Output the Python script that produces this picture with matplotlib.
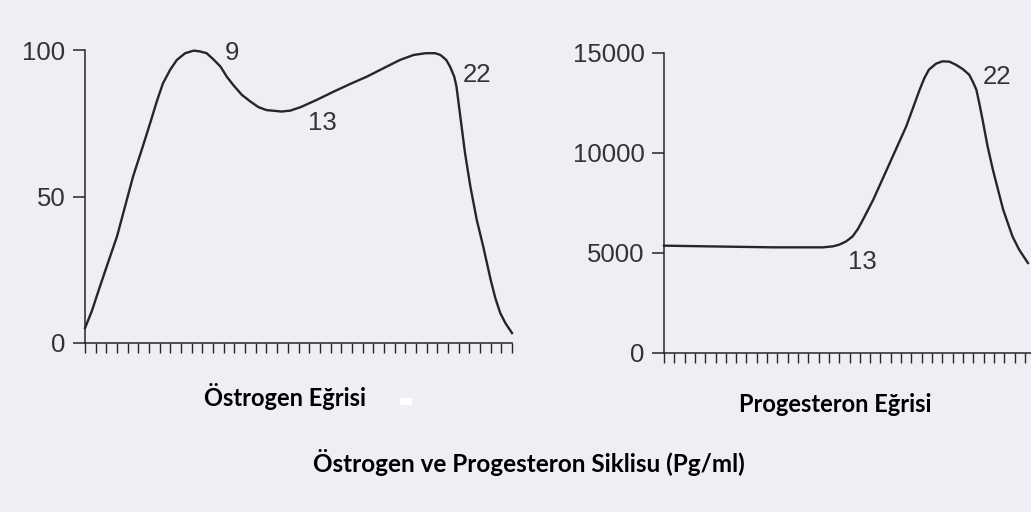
import matplotlib.pyplot as plt
from matplotlib.patches import Rectangle

### ------------------------------------------------------------------
### Data (x = tick index along the cycle axis)
### ------------------------------------------------------------------

estrogenDay = [0, 0.63, 1.4, 2.19, 3.0, 3.75, 4.5, 5.31, 6.1, 6.72, 7.3, 7.97, 8.6, 9.38, 10.2,
               10.78, 11.4, 12.03, 12.7, 13.28, 13.9, 14.69, 15.5, 16.25, 17.0, 18.4, 19.22,
               20.2, 21.72, 23.3, 24.84, 26.4, 27.97, 29.5, 30.78, 31.9, 32.81, 33.3, 33.84,
               34.2, 34.59, 34.8, 35.0, 35.2, 35.6, 36.1, 36.7, 37.3, 38.0, 38.44, 38.9,
               39.38, 40.0]
estrogenLevel = [5.1, 10.8, 19.3, 27.8, 36.4, 46.6, 56.8, 65.9, 75.0, 82.4, 88.6, 93.2, 96.6,
                 98.9, 99.8, 99.5, 98.9, 96.8, 94.3, 90.9, 88.0, 84.7, 82.4, 80.5, 79.5, 79.0,
                 79.3, 80.5, 83.0, 85.8, 88.4, 90.9, 93.8, 96.6, 98.3, 98.9, 98.9, 98.3, 96.6,
                 94.3, 90.9, 87.5, 81.8, 76.1, 64.8, 53.4, 42.0, 33.0, 21.6, 15.3, 10.2,
                 6.8, 3.4]

progesteronDay = [0, 4.1, 10.6, 15.4, 16.39, 17.0, 17.68, 18.3, 18.81, 19.3, 20.3, 21.9, 23.5,
                  24.8, 25.26, 25.7, 26.39, 27.0, 27.68, 28.3, 28.97, 29.6, 29.94, 30.3, 30.58,
                  30.9, 31.39, 31.9, 32.9, 33.8, 34.45, 35.3]
progesteronLevel = [5367, 5333, 5283, 5283, 5333, 5417, 5583, 5833, 6200, 6667, 7667, 9500,
                    11333, 13167, 13750, 14167, 14467, 14583, 14567, 14417, 14200, 13917,
                    13583, 13167, 12500, 11667, 10333, 9167, 7167, 5833, 5167, 4500]

estrogenTicks = [0, 50, 100]
progesteronTicks = [0, 5000, 10000, 15000]

estrogenMarks = [('9', 13.8, 99), ('13', 22.2, 75), ('22', 36.7, 91.5)]
progesteronMarks = [('13', 19.2, 4550), ('22', 32.3, 13800)]

estrogenTitle = 'Östrogen Eğrisi'
progesteronTitle = 'Progesteron Eğrisi'
mainTitle = 'Östrogen ve Progesteron Siklisu (Pg/ml)'

bgColor = '#eeeef4'
inkColor = '#262626'
textColor = '#333333'

### ------------------------------------------------------------------


def StyleAxes(ax, yticks, xmax, ymax):
    ax.set_facecolor(bgColor)
    ax.spines['top'].set_visible(False)
    ax.spines['right'].set_visible(False)
    for side in ['left', 'bottom']:
        ax.spines[side].set_color(inkColor)
        ax.spines[side].set_linewidth(1.1)
    ax.set_xlim(0, xmax)
    ax.set_ylim(0, ymax)
    ax.set_yticks(yticks)
    ax.set_yticklabels([str(t) for t in yticks], fontfamily='Liberation Sans',
                       fontsize=18.5, color=textColor)
    ax.set_xticks(range(0, int(xmax) + 1))
    ax.set_xticklabels([])
    ax.tick_params(axis='x', direction='out', length=7, width=1.0, color=inkColor)
    ax.tick_params(axis='y', direction='out', length=9, width=1.1, color=inkColor, pad=5)
    for tick in ax.get_xticklines() + ax.get_yticklines():
        tick.set_clip_on(False)


fig = plt.figure(figsize=(10.31, 5.12), dpi=100, facecolor=bgColor)

axLeft = fig.add_axes([85 / 1031, 169 / 512, 427 / 1031, 293 / 512])
StyleAxes(axLeft, estrogenTicks, 40, 100)
axLeft.plot(estrogenDay, estrogenLevel, color=inkColor, linewidth=1.7, clip_on=False,
            solid_joinstyle='round')
for label, x, y in estrogenMarks:
    axLeft.text(x, y, label, fontfamily='Liberation Sans', fontsize=18.5, color=textColor,
                ha='center', va='center')

axRight = fig.add_axes([664 / 1031, 159 / 512, 367 / 1031, 300 / 512])
StyleAxes(axRight, progesteronTicks, 35.6, 15000)
axRight.plot(progesteronDay, progesteronLevel, color=inkColor, linewidth=1.7, clip_on=False,
             solid_joinstyle='round')
for label, x, y in progesteronMarks:
    axRight.text(x, y, label, fontfamily='Liberation Sans', fontsize=18.5, color=textColor,
                 ha='center', va='center')

fig.text(285 / 1031, 1 - 397 / 512, estrogenTitle, fontfamily='Lato', fontweight='bold',
         fontsize=17, color='black', ha='center', va='center')
fig.text(835 / 1031, 1 - 405 / 512, progesteronTitle, fontfamily='Lato', fontweight='bold',
         fontsize=17, color='black', ha='center', va='center')
fig.text(529 / 1031, 1 - 463 / 512, mainTitle, fontfamily='Lato', fontweight='bold',
         fontsize=17.5, color='black', ha='center', va='center')

# small white speck next to the first caption
fig.patches.append(Rectangle((400 / 1031, 1 - 405 / 512), 12 / 1031, 7 / 512,
                             transform=fig.transFigure, facecolor='white', edgecolor='none'))

fig.savefig('out.png', dpi=100, facecolor=bgColor)
